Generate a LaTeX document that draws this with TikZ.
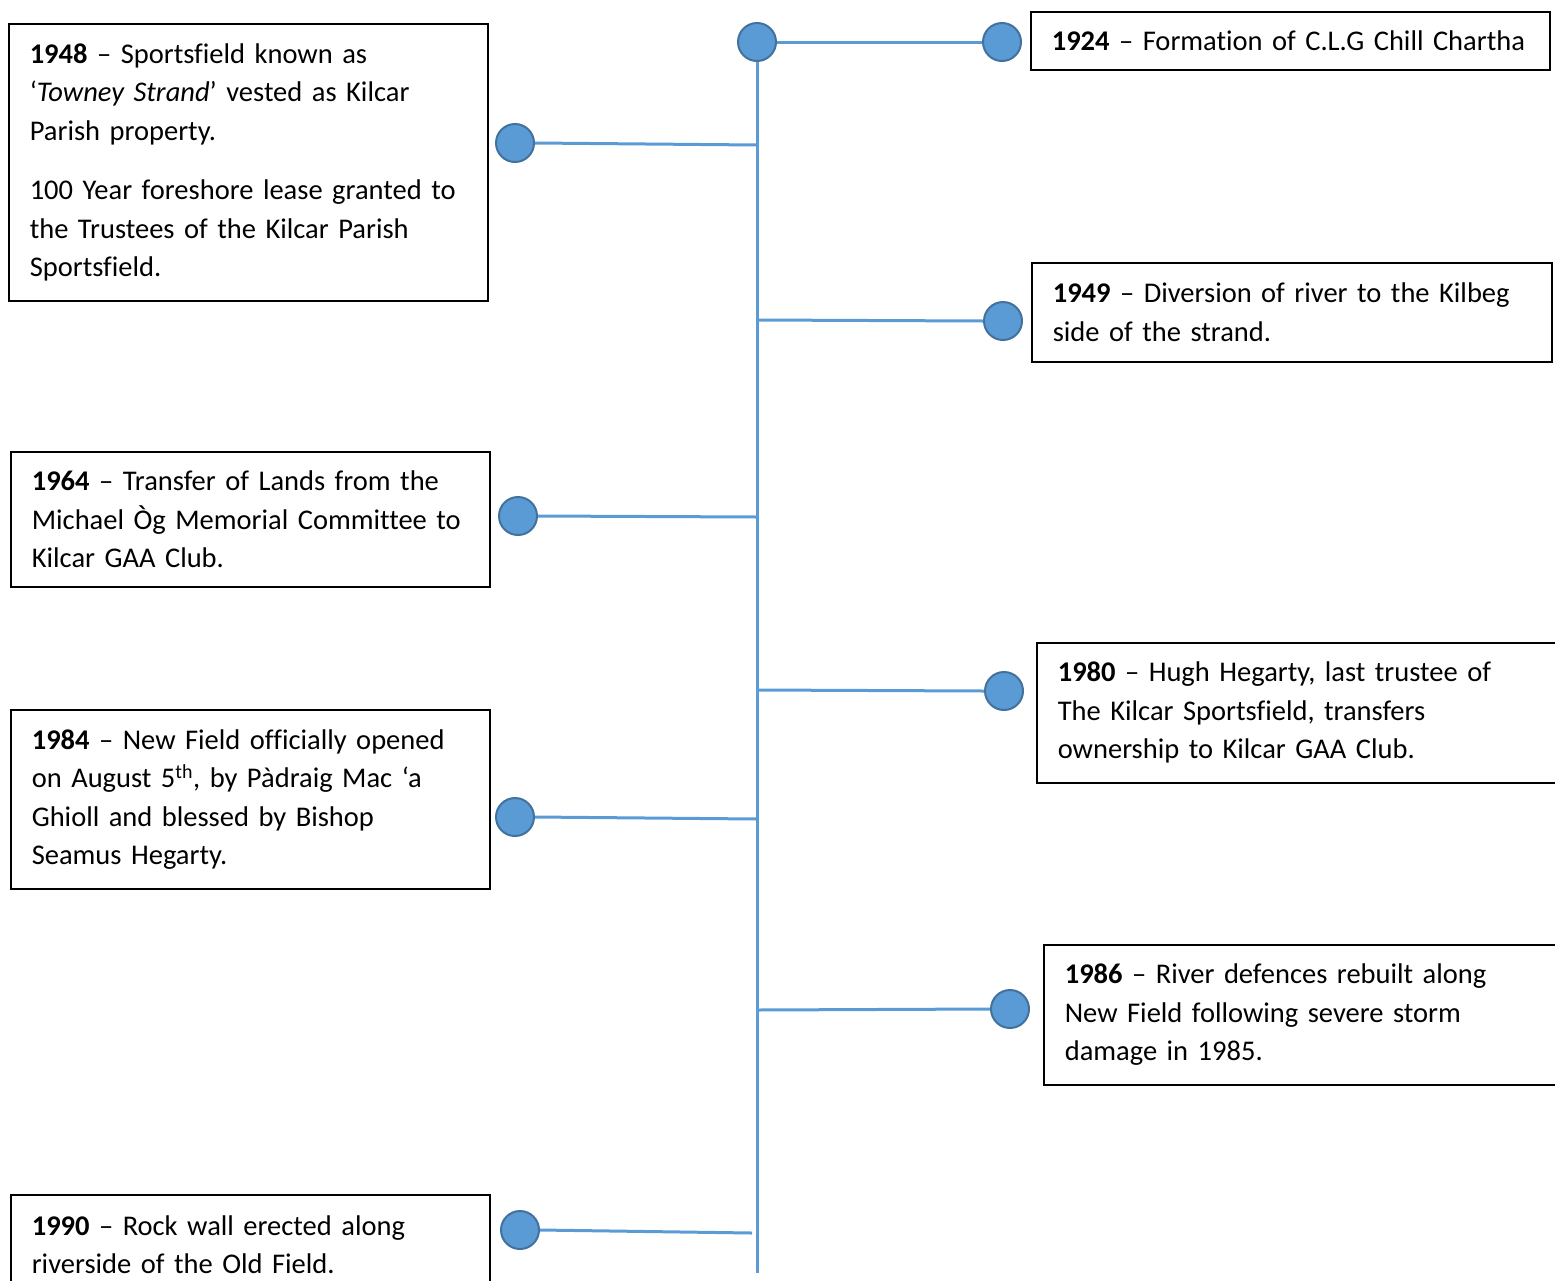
\documentclass[tikz,border=0pt]{standalone}
\usepackage{fontspec}
\setmainfont{Carlito}[Ligatures=NoCommon]
\definecolor{tlblue}{HTML}{5B9BD5}
\definecolor{tledge}{HTML}{41719C}
\begin{document}
\begin{tikzpicture}[x=1pt,y=-1pt,
  evbox/.style={draw=black,line width=1.6pt,anchor=north west,inner xsep=21pt,inner ysep=0pt,align=left,font=\fontsize{28.5}{38.5}\selectfont},
  dot/.style={circle,fill=tlblue,draw=tledge,line width=2pt,minimum size=38pt,inner sep=0pt},
  link/.style={draw=tlblue,line width=3pt}]
\useasboundingbox (0,0) rectangle (1555,1280);

% boxes
\node[evbox,text width=477pt,minimum height=58pt] (b1924) at (1030,11) {\textbf{1924} – Formation of C.L.G Chill Chartha};
\node[evbox,text width=437pt,minimum height=277pt] (b1948) at (8,23) {\textbf{1948} – Sportsfield known as\\ ‘\textit{Towney Strand}’ vested as Kilcar\\ Parish property.\\[21pt] 100 Year foreshore lease granted to\\ the Trustees of the Kilcar Parish\\ Sportsfield.};
\node[evbox,text width=478pt,minimum height=99pt] (b1949) at (1031,262) {\textbf{1949} – Diversion of river to the Kilbeg\\ side of the strand.};
\node[evbox,text width=437pt,minimum height=135pt] (b1964) at (10,451) {\textbf{1964} – Transfer of Lands from the\\ Michael Òg Memorial Committee to\\ Kilcar GAA Club.};
\node[evbox,text width=518pt,minimum height=140pt] (b1980) at (1036,642) {\textbf{1980} – Hugh Hegarty, last trustee of\\ The Kilcar Sportsfield, transfers\\ ownership to Kilcar GAA Club.};
\node[evbox,text width=437pt,minimum height=179pt] (b1984) at (10,709) {\textbf{1984} – New Field officially opened\\ on August 5\textsuperscript{th}, by Pàdraig Mac ‘a\\ Ghioll and blessed by Bishop\\ Seamus Hegarty.};
\node[evbox,text width=518pt,minimum height=140pt] (b1986) at (1043,944) {\textbf{1986} – River defences rebuilt along\\ New Field following severe storm\\ damage in 1985.};
\node[evbox,text width=437pt,minimum height=100pt] (b1990) at (10,1194) {\textbf{1990} – Rock wall erected along\\ riverside of the Old Field.};

% spine coordinates
\coordinate (s1948) at (757,145);
\coordinate (s1949) at (757,320);
\coordinate (s1964) at (757,517);
\coordinate (s1980) at (757,690);
\coordinate (s1984) at (757,819);
\coordinate (s1986) at (757,1010);
\coordinate (s1990) at (752,1233);
\coordinate (sEnd) at (757,1273);

% dots
\node[dot] (top) at (757,42) {};
\node[dot] (d1924) at (1002,42) {};
\node[dot] (d1948) at (515,143) {};
\node[dot] (d1949) at (1003,321) {};
\node[dot] (d1964) at (518,516) {};
\node[dot] (d1980) at (1004,691) {};
\node[dot] (d1984) at (515,817) {};
\node[dot] (d1986) at (1010,1009) {};
\node[dot] (d1990) at (520,1230) {};

% connectors
\draw[link] (top.south) -- (sEnd);
\draw[link] (top.east) -- (d1924.west);
\draw[link] (d1948.east) -- (s1948);
\draw[link] (s1949) -- (d1949.west);
\draw[link] (d1964.east) -- (s1964);
\draw[link] (s1980) -- (d1980.west);
\draw[link] (d1984.east) -- (s1984);
\draw[link] (s1986) -- (d1986.west);
\draw[link] (d1990.east) -- (s1990);
\end{tikzpicture}
\end{document}
